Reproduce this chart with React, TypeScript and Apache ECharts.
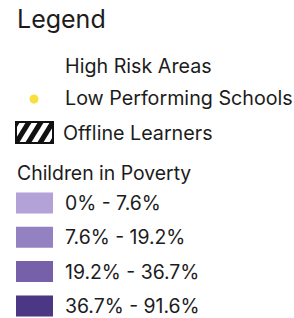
import React, { useEffect, useRef } from "react";
import * as echarts from "echarts";

const legendTitle = "Legend";
const itemLabels = ["High Risk Areas", "Low Performing Schools", "Offline Learners"];
const povertyTitle = "Children in Poverty";
const povertyRanges = ["0% - 7.6%", "7.6% - 19.2%", "19.2% - 36.7%", "36.7% - 91.6%"];
const povertyColors = ["#b2a2d8", "#9481c2", "#7560a9", "#4b3784"];
const dotColor = "#f7e03c";

const FONT = "Inter, 'Noto Sans', sans-serif";
const TEXT = "#1c1c1c";

function clipPoly(pts: number[][], w: number, h: number): number[][] {
  const edges: [(p: number[]) => boolean, (a: number[], b: number[]) => number[]][] = [
    [(p) => p[0] >= 0, (a, b) => { const t = (0 - a[0]) / (b[0] - a[0]); return [0, a[1] + t * (b[1] - a[1])]; }],
    [(p) => p[0] <= w, (a, b) => { const t = (w - a[0]) / (b[0] - a[0]); return [w, a[1] + t * (b[1] - a[1])]; }],
    [(p) => p[1] >= 0, (a, b) => { const t = (0 - a[1]) / (b[1] - a[1]); return [a[0] + t * (b[0] - a[0]), 0]; }],
    [(p) => p[1] <= h, (a, b) => { const t = (h - a[1]) / (b[1] - a[1]); return [a[0] + t * (b[0] - a[0]), h]; }],
  ];
  let out = pts;
  for (const [inside, inter] of edges) {
    const input = out;
    out = [];
    for (let i = 0; i < input.length; i++) {
      const cur = input[i];
      const prev = input[(i + input.length - 1) % input.length];
      if (inside(cur)) {
        if (!inside(prev)) out.push(inter(prev, cur));
        out.push(cur);
      } else if (inside(prev)) {
        out.push(inter(prev, cur));
      }
    }
    if (!out.length) break;
  }
  return out;
}

export default function App() {
  const ref = useRef<HTMLDivElement>(null);
  useEffect(() => {
    if (!ref.current) return;
    const chart = echarts.init(ref.current, null, { renderer: "svg" });
    const elements: any[] = [];
    elements.push({
      type: "text", x: 17, y: 19,
      style: { text: legendTitle, font: `400 25px ${FONT}`, fill: TEXT, verticalAlign: "middle" },
    });
    const itemY = [65.5, 98, 133];
    const itemX = [65, 65, 63];
    itemLabels.forEach((t, i) => {
      elements.push({
        type: "text", x: itemX[i], y: itemY[i],
        style: { text: t, font: `400 19.7px ${FONT}`, fill: TEXT, verticalAlign: "middle" },
      });
    });
    elements.push({ type: "circle", shape: { cx: 34, cy: 99, r: 4.5 }, style: { fill: dotColor } });
    // hatch box
    const bx = 16, by = 122, bw = 37, bh = 21;
    const slant = 13, sw = 6, period = 12;
    for (let o = -slant - 2; o < bw + 2; o += period) {
      const poly = clipPoly([[o, bh], [o + sw, bh], [o + sw + slant, 0], [o + slant, 0]], bw, bh);
      if (poly.length > 2) {
        elements.push({
          type: "polygon",
          shape: { points: poly.map((p) => [p[0] + bx, p[1] + by]) },
          style: { fill: "#111" },
        });
      }
    }
    elements.push({
      type: "rect", shape: { x: bx, y: by, width: bw, height: bh },
      style: { fill: "none", stroke: "#111", lineWidth: 2 },
    });
    elements.push({
      type: "text", x: 17, y: 173,
      style: { text: povertyTitle, font: `400 19.4px ${FONT}`, fill: TEXT, verticalAlign: "middle" },
    });
    povertyRanges.forEach((t, i) => {
      const y = 192.5 + i * 34.3;
      elements.push({
        type: "rect", shape: { x: 16, y, width: 37, height: 21 },
        style: { fill: povertyColors[i] },
      });
      elements.push({
        type: "text", x: 65, y: y + 10.5,
        style: { text: t, font: `400 19.4px ${FONT}`, fill: TEXT, verticalAlign: "middle" },
      });
    });
    chart.setOption({ animation: false, graphic: { elements } });
    return () => chart.dispose();
  }, []);
  return <div ref={ref} style={{ width: 294, height: 318, position: "absolute", left: 0, top: 0, background: "#fff" }} />;
}
